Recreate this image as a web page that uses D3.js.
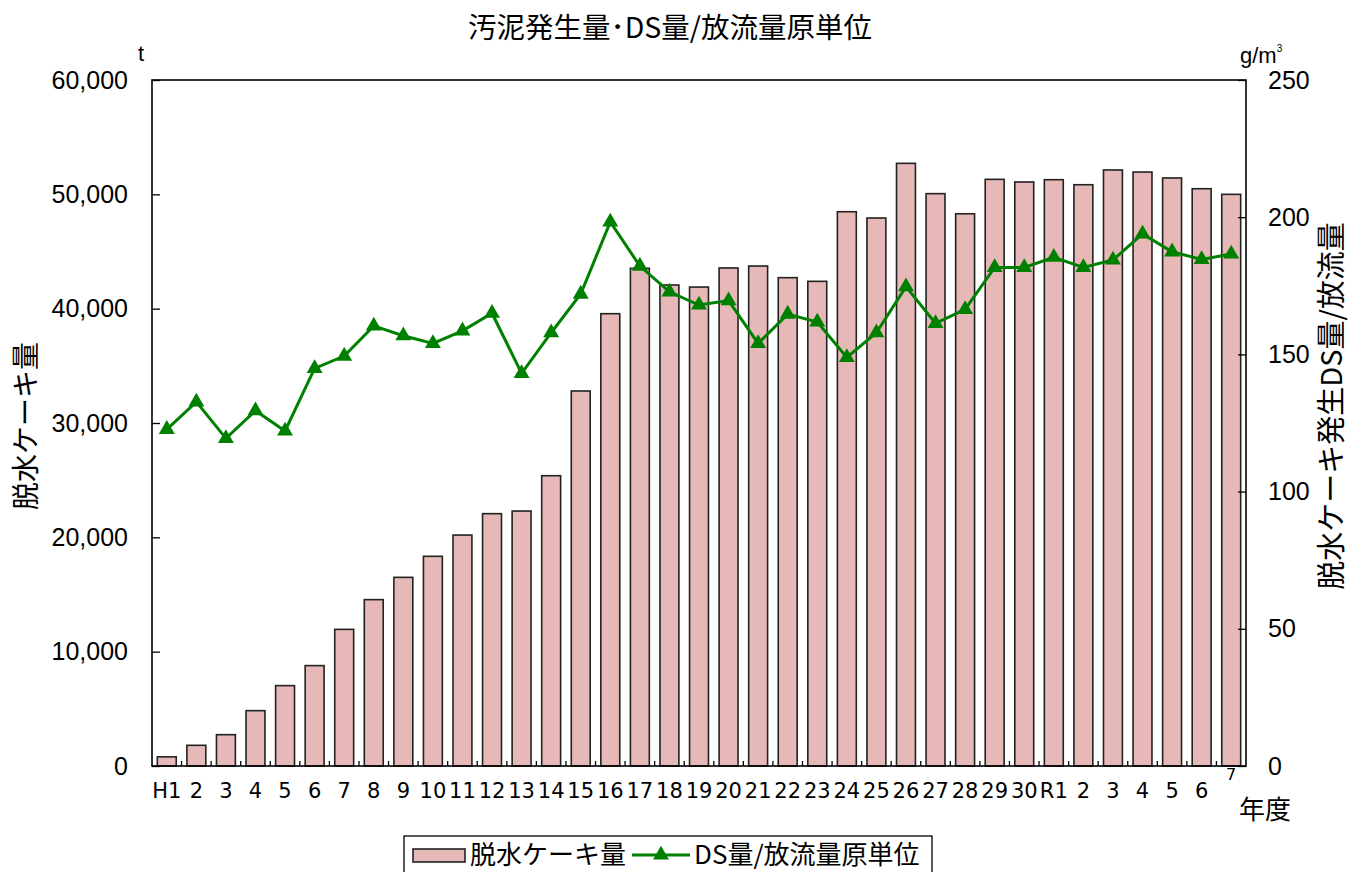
<!DOCTYPE html>
<html><head><meta charset="utf-8">
<script src="https://cdn.jsdelivr.net/npm/d3@7/dist/d3.min.js"></script>
<style>
body{margin:0;background:#fff;}
svg{display:block;}
text{fill:#000;}
.num{font-family:"Liberation Sans",Arial,sans-serif;}
.xl{font-family:"DejaVu Sans",Verdana,sans-serif;}
.jp{font-family:"Noto Sans CJK JP","Liberation Sans",sans-serif;}
</style></head>
<body>
<script>
const categories = ["H1","2","3","4","5","6","7","8","9","10","11","12","13","14","15","16","17","18","19","20","21","22","23","24","25","26","27","28","29","30","R1","2","3","4","5","6","7"];
const cakeAmount = [800,1810,2740,4840,7030,8780,11950,14550,16500,18340,20200,22070,22300,25390,32800,39560,43530,42070,41890,43560,43730,42710,42390,48480,47930,52710,50060,48300,51310,51080,51280,50840,52130,51950,51430,50490,50000];
const dsUnit = [122.7,132.7,119.4,129.5,122.1,144.9,149.4,160.4,156.8,154.0,158.6,165.0,143.1,157.9,172.0,198.3,182.2,172.8,168.0,169.6,154.0,164.7,161.8,148.9,157.9,174.7,161.3,166.4,181.7,181.7,185.4,181.7,184.4,193.9,187.4,184.6,186.6];
const leftTicks = [0,10000,20000,30000,40000,50000,60000];
const rightTicks = [0,50,100,150,200,250];
const titleText = "汚泥発生量･DS量/放流量原単位";
const seriesNames = ["脱水ケーキ量","DS量/放流量原単位"];

const W=1362,H=872;
const x0=152,x1=1246,y0=80,y1=766;
const svg=d3.select("body").append("svg").attr("width",W).attr("height",H);

const x=d3.scaleBand().domain(d3.range(categories.length)).range([x0,x1]).paddingInner(0.36).paddingOuter(0.18);
const yL=d3.scaleLinear().domain([0,60000]).range([y1,y0]);
const yR=d3.scaleLinear().domain([0,250]).range([y1,y0]);

// bars
svg.append("g").selectAll("rect").data(cakeAmount).join("rect")
  .attr("x",(d,i)=>x(i)).attr("width",x.bandwidth())
  .attr("y",d=>yL(d)).attr("height",d=>y1-yL(d))
  .attr("fill","#e6b8b7").attr("stroke","#222").attr("stroke-width",1.6);

// frame
svg.append("rect").attr("x",x0).attr("y",y0).attr("width",x1-x0).attr("height",y1-y0)
  .attr("fill","none").attr("stroke","#000").attr("stroke-width",1.6);

// left axis
const gl=svg.append("g").attr("transform",`translate(${x0},0)`)
  .call(d3.axisLeft(yL).tickValues(leftTicks).tickFormat(d3.format(",")).tickSize(-8).tickPadding(24));
gl.select(".domain").remove();
gl.selectAll("line").attr("stroke","#000").attr("stroke-width",1.3);
gl.selectAll("text").attr("class","num").style("font-size","25px").style("font-family",null);

// right axis
const gr=svg.append("g").attr("transform",`translate(${x1},0)`)
  .call(d3.axisRight(yR).tickValues(rightTicks).tickSize(-8).tickPadding(22));
gr.select(".domain").remove();
gr.selectAll("line").attr("stroke","#000").attr("stroke-width",1.3);
gr.selectAll("text").attr("class","num").style("font-size","25px");

// x axis labels
const gx=svg.append("g").attr("transform",`translate(0,${y1})`)
  .call(d3.axisBottom(x).tickFormat(i=>categories[i]).tickSize(0).tickPadding(17));
gx.select(".domain").remove();
gx.attr("font-family",null).attr("font-size",null);
gx.selectAll("text").attr("class","xl").style("font-size","21px");
gx.selectAll(".tick").filter(i=>i===categories.length-1).select("text")
  .style("font-size","16px").attr("dy","-0.2em");

// x boundary ticks
const step=x.step();
svg.append("g").selectAll("line").data(d3.range(1,categories.length)).join("line")
  .attr("x1",i=>x0+i*step).attr("x2",i=>x0+i*step)
  .attr("y1",y1).attr("y2",y1-5).attr("stroke","#000").attr("stroke-width",1.3);

// line
const line=d3.line().x((d,i)=>x(i)+x.bandwidth()/2).y(d=>yR(d));
svg.append("path").datum(dsUnit).attr("d",line).attr("fill","none")
  .attr("stroke","#008000").attr("stroke-width",3);
const tri=d3.symbol().type(d3.symbolTriangle).size(110);
svg.append("g").selectAll("path").data(dsUnit).join("path")
  .attr("d",tri).attr("transform",(d,i)=>`translate(${x(i)+x.bandwidth()/2},${yR(d)})`)
  .attr("fill","#008000");

// titles
svg.append("text").attr("class","jp").attr("x",670).attr("y",38).attr("text-anchor","middle")
  .style("font-size","28.5px").text(titleText);
svg.append("text").attr("class","num").attr("x",141).attr("y",61).attr("text-anchor","middle").style("font-size","22px").text("t");
const gm=svg.append("text").attr("class","num").attr("x",1240).attr("y",63).style("font-size","22px");
gm.append("tspan").text("g/m");
gm.append("tspan").style("font-size","10px").attr("dy",-11).text("3");
svg.append("text").attr("class","jp").attr("x",1239).attr("y",819).style("font-size","26px").text("年度");

svg.append("text").attr("class","jp").attr("transform","translate(36,426) rotate(-90)")
  .attr("text-anchor","middle").style("font-size","28px").text("脱水ケーキ量");
svg.append("text").attr("class","jp").attr("transform","translate(1342,406) rotate(-90)")
  .attr("text-anchor","middle").style("font-size","29px").text("脱水ケーキ発生DS量/放流量");

// legend
const lg=svg.append("g");
lg.append("rect").attr("x",404).attr("y",836).attr("width",528).attr("height",60)
  .attr("fill","#fff").attr("stroke","#000").attr("stroke-width",1.3);
lg.append("rect").attr("x",413).attr("y",849).attr("width",52).attr("height",13)
  .attr("fill","#e6b8b7").attr("stroke","#222").attr("stroke-width",1.6);
lg.append("text").attr("class","jp").attr("x",470).attr("y",864).style("font-size","26px").text(seriesNames[0]);
lg.append("line").attr("x1",632).attr("x2",690).attr("y1",855).attr("y2",855)
  .attr("stroke","#008000").attr("stroke-width",3);
lg.append("path").attr("d",tri).attr("transform","translate(661,855)").attr("fill","#008000");
lg.append("text").attr("class","jp").attr("x",694).attr("y",864).style("font-size","26px").text(seriesNames[1]);
</script>
</body></html>
